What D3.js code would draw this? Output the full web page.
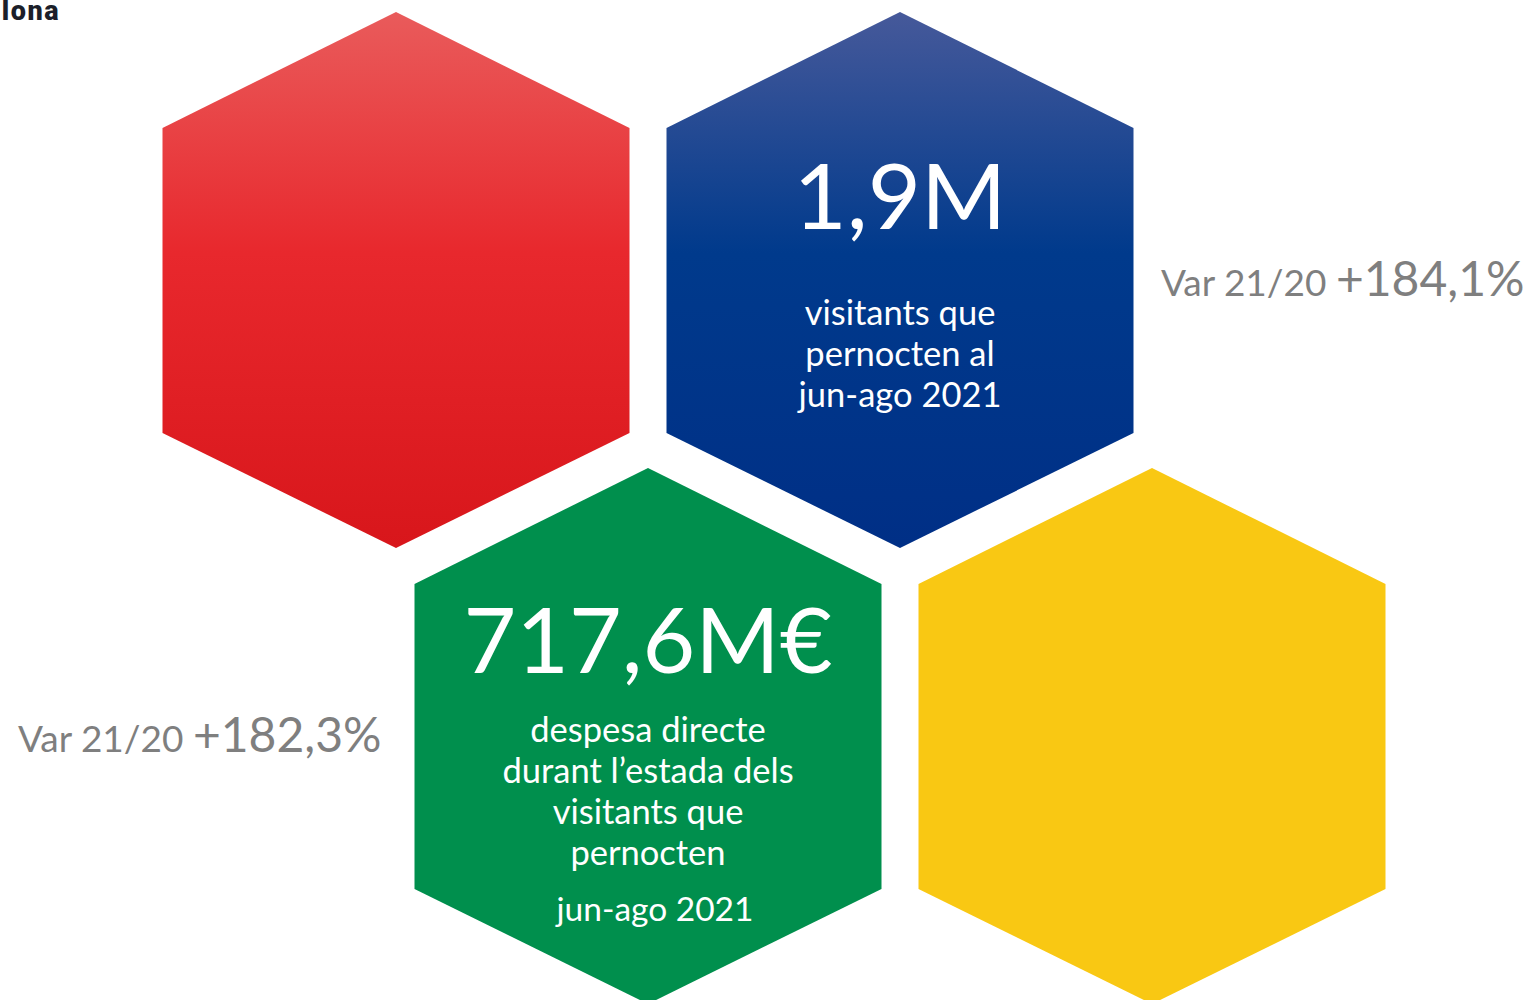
<!DOCTYPE html>
<html>
<head>
<meta charset="utf-8">
<script src="https://cdn.jsdelivr.net/npm/d3@7"></script>
<style>
  body { margin: 0; background: #fff; }
  svg { display: block; }
</style>
</head>
<body>
<svg id="hexes" width="1533" height="1000"></svg>
<script>
  // values
  const hexNames = ["turisme", "visitants", "despesa", "altres"];
  const hexValues = ["", "1,9M", "717,6M€", ""];
  const hexCaptions = [
    [],
    ["visitants que", "pernocten al", "jun-ago 2021"],
    ["despesa directe", "durant l’estada dels", "visitants que", "pernocten"],
    [],
  ];
  const hexPeriods = ["", "", "jun-ago 2021", ""];
  const varLabel = "Var 21/20";
  const varHexes = ["visitants", "despesa"];
  const varValues = ["+184,1%", "+182,3%"];
  const logoText = "lona";

  // layout
  const slots = { turisme: [0, 0], visitants: [1, 0], despesa: [0.5, 1], altres: [1.5, 1] };
  const fills = {
    turisme: ["#e95b5b", "#e8282d", "#d8161b"],
    visitants: ["#46599a", "#003a8c", "#002f86"],
    despesa: ["#008f4d", "#008f4d", "#008f4d"],
    altres: ["#f9c813", "#f9c813", "#f9c813"],
  };
  const halfW = 233.5;
  const tip = 268;
  const shoulder = 152;

  const svg = d3.select("#hexes");
  const defs = svg.append("defs");

  const x = d3.scaleLinear().domain([0, 1]).range([396, 900]);
  const y = d3.scaleLinear().domain([0, 1]).range([280, 736]);

  hexNames.forEach((name) => {
    const grad = defs.append("linearGradient")
      .attr("id", `grad-${name}`)
      .attr("x1", 0).attr("y1", 0)
      .attr("x2", 0).attr("y2", 1);
    const stops = fills[name];
    grad.append("stop").attr("offset", "0%").attr("stop-color", stops[0]);
    grad.append("stop").attr("offset", "45%").attr("stop-color", stops[1]);
    grad.append("stop").attr("offset", "100%").attr("stop-color", stops[2]);
  });

  function hexPath(cx, cy) {
    const pts = [
      [cx, cy - tip],
      [cx + halfW, cy - shoulder],
      [cx + halfW, cy + shoulder + 1],
      [cx, cy + tip],
      [cx - halfW, cy + shoulder + 1],
      [cx - halfW, cy - shoulder],
    ];
    return d3.line()(pts) + "Z";
  }

  const hex = svg.append("g")
    .selectAll("g")
    .data(hexNames)
    .enter()
    .append("g")
    .attr("transform", (d) => `translate(${x(slots[d][0])}, ${y(slots[d][1])})`);

  hex.append("path")
    .attr("d", hexPath(0, 0))
    .attr("fill", (d) => `url(#grad-${d})`);

  const font = "Lato, 'Open Sans', sans-serif";

  // big figure
  hex.append("text")
    .attr("x", 0)
    .attr("y", (d, i) => (i === 2 ? -63 : -51))
    .attr("text-anchor", "middle")
    .style("font-family", font)
    .style("font-size", (d, i) => (i === 2 ? "91px" : "92px"))
    .style("fill", "#fff")
    .text((d, i) => hexValues[i]);

  // caption lines
  hex.each(function (d, i) {
    const g = d3.select(this);
    const top = i === 2 ? 6 : 45;
    hexCaptions[i].forEach((line, k) => {
      g.append("text")
        .attr("x", 0)
        .attr("y", top + k * 41)
        .attr("text-anchor", "middle")
        .style("font-family", font)
        .style("font-size", "34.5px")
        .style("fill", "#fff")
        .text(line);
    });
    if (hexPeriods[i]) {
      g.append("text")
        .attr("x", 7)
        .attr("y", 185)
        .attr("text-anchor", "middle")
        .style("font-family", font)
        .style("font-size", "33.5px")
        .style("fill", "#fff")
        .text(hexPeriods[i]);
    }
  });

  // variation notes beside the hexagons
  const varPos = { visitants: [1161, 296], despesa: [18, 752] };
  varHexes.forEach((name, i) => {
    const t = svg.append("text")
      .attr("x", varPos[name][0])
      .attr("y", varPos[name][1])
      .style("font-family", font)
      .style("fill", "#7f7f7f");
    t.append("tspan").style("font-size", "37px").text(varLabel + " ");
    t.append("tspan").style("font-size", "48px").text(varValues[i]);
  });

  // logo fragment in the corner
  svg.append("text")
    .attr("x", 60)
    .attr("y", 20)
    .attr("text-anchor", "end")
    .style("font-family", "Roboto, 'Liberation Sans', sans-serif")
    .style("font-weight", 900)
    .style("font-size", "27px")
    .style("letter-spacing", "1.5px")
    .style("fill", "#1c1f2a")
    .text(logoText);
</script>
</body>
</html>
